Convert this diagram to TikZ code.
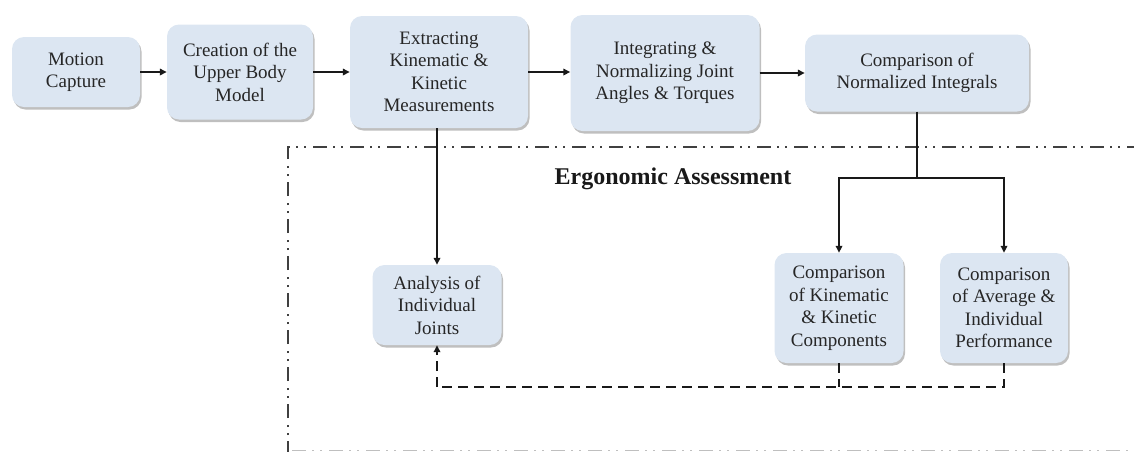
\documentclass[tikz,border=0pt]{standalone}
\usepackage{fontspec}
\setmainfont{Liberation Serif}
\usetikzlibrary{arrows.meta,shadows}
\definecolor{boxblue}{HTML}{DCE6F2}
\begin{document}
\begin{tikzpicture}[x=1pt,y=-1pt,
  box/.style={fill=boxblue, rounded corners=12pt, align=center, inner sep=2pt,
    font=\fontsize{19}{22.5}\selectfont, text=black!85,
    drop shadow={shadow xshift=1.5pt, shadow yshift=-2.5pt, fill=black, opacity=0.25}},
  conn/.style={line width=1.6pt, draw=black!90},
  arr/.style={conn, -{Triangle[length=7pt,width=6.5pt]}},
  dsh/.style={conn, dash pattern=on 10pt off 6pt},
  border/.style={line width=1.8pt, draw=black!75, line cap=butt,
    dash pattern=on 14pt off 6pt on 2pt off 6pt on 2pt off 7pt}]
\useasboundingbox (0,0) rectangle (1134,451);

% dash-dot frame
\draw[border] (288,455) -- (288,147) -- (1140,147);
\draw[border, draw=black!25, line width=1.2pt] (292,450.5) -- (1140,450.5);

% top row
\node[box, minimum width=128pt, minimum height=70pt] (mc) at (76,72) {Motion\\Capture};
\node[box, minimum width=146pt, minimum height=95pt] (cr) at (240,72) {Creation of the\\Upper Body\\Model};
\node[box, minimum width=178pt, minimum height=112pt] (ex) at (439,72) {Extracting\\Kinematic \&\\Kinetic\\Measurements};
\node[box, minimum width=189pt, minimum height=116pt] (in) at (665,73) {Integrating \&\\Normalizing Joint\\Angles \& Torques};
\node[box, minimum width=224pt, minimum height=77pt] (ni) at (917,73) {Comparison of\\Normalized Integrals};

% lower row
\node[box, minimum width=129pt, minimum height=80pt] (an) at (437,305) {Analysis of\\Individual\\Joints};
\node[box, minimum width=129pt, minimum height=110pt] (ck) at (839,308) {Comparison\\of Kinematic\\\& Kinetic\\Components};
\node[box, minimum width=128pt, minimum height=110pt] (ca) at (1004,308) {Comparison\\of Average \&\\Individual\\Performance};

\node[font=\fontsize{24}{28}\selectfont\bfseries, text=black!90] (ea) at (673,179) {Ergonomic Assessment};

% connectors
\draw[arr] (mc.east) -- (mc.east -| cr.west);
\draw[arr] (cr.east) -- (cr.east -| ex.west);
\draw[arr] (ex.east) -- (ex.east -| in.west);
\draw[arr] (in.east) -- (in.east -| ni.west);
\draw[arr] (ex.south -| an.north) -- (an.north);

\coordinate (br) at (917,178);
\draw[arr] (ni.south) -- (br) -| (ck.north);
\draw[arr] (br) -| (ca.north);

\coordinate (dj) at (437,387);
\draw[dsh] (ca.south) |- (dj);
\draw[dsh] (ck.south) -- (ck.south |- dj);
\draw[dsh, -{Triangle[length=7pt,width=6.5pt]}] (dj) -- (an.south);
\end{tikzpicture}
\end{document}
